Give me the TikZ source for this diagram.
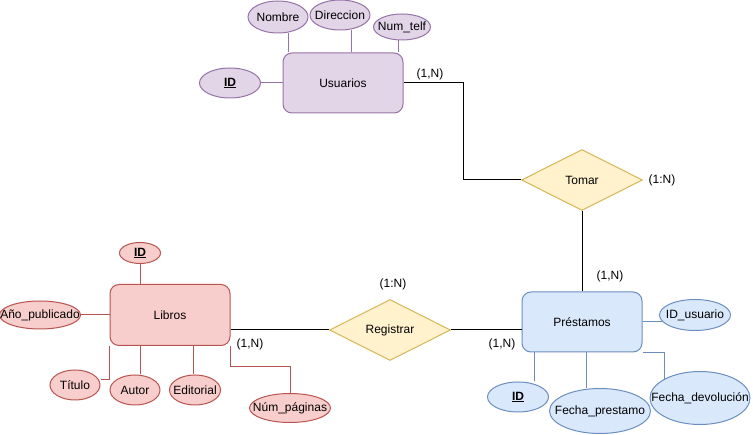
\documentclass[tikz,border=0pt]{standalone}
\usepackage{fontspec}
\setmainfont{Liberation Sans}
\usetikzlibrary{positioning,shapes.geometric}

\definecolor{usrfill}{HTML}{E1D5E7}
\definecolor{usrline}{HTML}{9673A6}
\definecolor{libfill}{HTML}{F8CECC}
\definecolor{libline}{HTML}{B85450}
\definecolor{prefill}{HTML}{DAE8FC}
\definecolor{preline}{HTML}{6C8EBF}
\definecolor{relfill}{HTML}{FFF2CC}
\definecolor{relline}{HTML}{D6B656}

\begin{document}
\begin{tikzpicture}[
    x=1pt, y=-1pt, line width=1pt,
    every node/.style={
    font=\fontsize{12}{14}\selectfont, inner sep=0pt, align=center},
    entidad/.style={draw, rounded corners=9pt,
    minimum width=120pt, minimum height=60pt},
    atributo/.style={draw, ellipse, inner xsep=-15pt, inner ysep=-5pt},
    relacion/.style={draw=relline, fill=relfill, diamond,
    minimum width=121pt, minimum height=61pt},
    usr/.style={draw=usrline, fill=usrfill},
    lib/.style={draw=libline, fill=libfill},
    pre/.style={draw=preline, fill=prefill}
    ]
    \useasboundingbox (0,0) rectangle (753,435);

    % Usuarios
    \node[entidad, usr](usuarios) at (343,83) {Usuarios};
    \node[atributo, usr, minimum width=61pt, minimum height=30pt](idusr) at (230,83) {\underline{\textbf{ID}}};
    \node[atributo, usr, minimum width=60pt, minimum height=32pt](nombre) at (278,17) {Nombre};
    \node[atributo, usr, minimum width=60pt, minimum height=30pt](direccion) at (340,15) {Direccion};
    \node[atributo, usr, minimum width=57pt, minimum height=26pt](numtelf) at (402,27) {Num\_telf};

    \draw[usrline] (idusr) -- (usuarios);
    \draw[usrline] ([xshift=10pt]nombre.south) -- ([xshift=10pt]nombre.south |- usuarios.north);
    \draw[usrline] ([xshift=11pt]direccion.south) -- ([xshift=11pt]direccion.south |- usuarios.north);
    \draw[usrline] ([xshift=-4pt]numtelf.south) -- ([xshift=-4pt]numtelf.south |- usuarios.north);

    % Relaciones
    \node[relacion](tomar) at (582,180) {Tomar};
    \node[relacion](registrar) at (390,330) {Registrar};

    % Libros
    \node[entidad, lib, minimum height=61pt](libros) at (170,315) {Libros};
    \node[atributo, lib, minimum width=41pt, minimum height=21pt](idlib) at (140,253) {\underline{\textbf{ID}}};
    \node[atributo, lib, minimum width=81pt, minimum height=28pt](anio) at (40,315) {Año\_publicado};
    \node[atributo, lib, minimum width=50pt, minimum height=30pt](titulo) at (75,385) {Título};
    \node[atributo, lib, minimum width=50pt, minimum height=30pt](autor) at (135,390) {Autor};
    \node[atributo, lib, minimum width=51pt, minimum height=30pt](editorial) at (195,390) {Editorial};
    \node[atributo, lib, minimum width=81pt, minimum height=29pt](numpag) at (290,408) {Núm\_páginas};

    \draw[libline] (idlib.south) -- (idlib.south |- libros.north);
    \draw[libline] (anio) -- (libros);
    \draw[libline] (libros.south west) |- ([yshift=5pt]titulo.east);
    \draw[libline] ([xshift=5pt]autor.north) -- ([xshift=5pt]autor.north |- libros.south);
    \draw[libline] ([xshift=-2pt]editorial.north) -- ([xshift=-2pt]editorial.north |- libros.south);
    \draw[libline] (libros.south east) -- ++(0,21) -| (numpag.north);

    % Prestamos
    \node[entidad, pre](prestamos) at (582,322) {Préstamos};
    \node[atributo, pre, minimum width=71pt, minimum height=31pt](idusuario) at (695,315) {ID\_usuario};
    \node[atributo, pre, minimum width=61pt, minimum height=30pt](idpre) at (518,397) {\underline{\textbf{ID}}};
    \node[atributo, pre, minimum width=101pt, minimum height=45pt](fprest) at (600,411) {Fecha\_prestamo};
    \node[atributo, pre, minimum width=100pt, minimum height=53pt](fdev) at (700,398) {Fecha\_devolución};

    \draw[preline] (prestamos.east) -- ([xshift=4pt]idusuario.west |- prestamos.east);
    \draw[preline] ([xshift=16pt]idpre.north) -- ([xshift=16pt]idpre.north |- prestamos.south);
    \draw[preline] ([xshift=-14pt]fprest.north) -- ([xshift=-14pt]fprest.north |- prestamos.south);
    \draw[preline] (prestamos.south east) -| (fdev.north west);

    % Conexiones
    \draw (usuarios.east) -- ++(60,0) |- (tomar.west);
    \draw (tomar) -- (prestamos);
    \draw (registrar.west -| libros.east) -- (registrar.west);
    \draw (registrar.east) -- (registrar.east -| prestamos.west);

    % Cardinalidades
    \node(c1) at (430,74) {(1,N)};
    \node(c2) at (662,180) {(1:N)};
    \node(c3) at (610,276) {(1,N)};
    \node(c4) at (393,284) {(1:N)};
    \node(c5) at (502,344) {(1,N)};
    \node(c6) at (250,344) {(1,N)};
\end{tikzpicture}
\end{document}
